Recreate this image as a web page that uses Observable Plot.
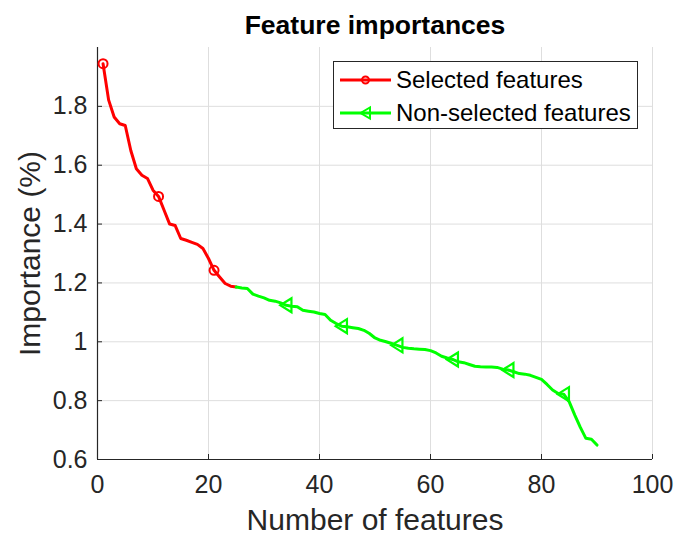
<!DOCTYPE html>
<html><head><meta charset="utf-8">
<script src="https://cdn.jsdelivr.net/npm/d3@7"></script>
<script src="https://cdn.jsdelivr.net/npm/@observablehq/plot@0.6"></script>
<style>
html,body{margin:0;padding:0;background:#fff;}
#chart{position:relative;width:675px;height:537px;font-family:"Liberation Sans",Arial,Helvetica,sans-serif;overflow:hidden;}
#legend{position:absolute;left:333px;top:61px;width:305px;height:68px;border:1px solid #262626;background:#fff;box-sizing:border-box;}
#legend .row{position:absolute;left:0;height:30px;display:flex;align-items:center;}
#legend svg{display:block;}
#legend span{font-size:24px;color:#000;margin-left:5px;white-space:nowrap;}
</style></head><body>
<div id="chart"></div>
<script>
// ---- data ----
const selectedStart = 1;
const selectedImportance = [1.945, 1.822, 1.764, 1.741, 1.735, 1.650, 1.588, 1.566, 1.555, 1.515,
  1.494, 1.447, 1.400, 1.395, 1.351, 1.345, 1.338, 1.331, 1.317, 1.283,
  1.243, 1.220, 1.198, 1.189, 1.186];
const nonSelectedStart = 25;
const nonSelectedImportance = [1.186, 1.183, 1.181, 1.162, 1.155, 1.149, 1.141, 1.138, 1.132, 1.124,
  1.121, 1.119, 1.107, 1.104, 1.101, 1.096, 1.093, 1.073, 1.062, 1.053,
  1.051, 1.048, 1.045, 1.039, 1.028, 1.013, 1.005, 1.000, 0.994, 0.988,
  0.981, 0.978, 0.976, 0.975, 0.974, 0.970, 0.962, 0.951, 0.945, 0.940,
  0.932, 0.929, 0.923, 0.917, 0.915, 0.914, 0.914, 0.913, 0.907, 0.904,
  0.898, 0.892, 0.890, 0.886, 0.879, 0.872, 0.855, 0.836, 0.824, 0.822,
  0.796, 0.751, 0.709, 0.672, 0.669, 0.649];
const selectedMarkers = [1, 11, 21];
const nonSelectedMarkers = [34, 44, 54, 64, 74, 84];
const xTicks = [0, 20, 40, 60, 80, 100];
const yTicks = [0.6, 0.8, 1.0, 1.2, 1.4, 1.6, 1.8];
const yTickLabels = ["0.6", "0.8", "1", "1.2", "1.4", "1.6", "1.8"];
const seriesNames = ["Selected features", "Non-selected features"];
const seriesColors = ["#ff0000", "#00ff00"];

// ---- build ----
const sel = selectedImportance.map((v, i) => ({x: selectedStart + i, y: v}));
const non = nonSelectedImportance.map((v, i) => ({x: nonSelectedStart + i, y: v}));

const W = 675, H = 537, mL = 97, mR = 23, mT = 47, mB = 78;
const innerH = H - mT - mB, innerW = W - mL - mR;

const triLeft = {
  draw(context, size) {
    const s = Math.sqrt(size / Math.PI);
    context.moveTo(-s * 0.85, 0);
    context.lineTo(s * 0.75, -s);
    context.lineTo(s * 0.75, s);
    context.closePath();
  }
};

const fmtY = d => yTickLabels[yTicks.findIndex(t => Math.abs(t - d) < 1e-9)];

const plot = Plot.plot({
  width: W, height: H,
  marginLeft: mL, marginRight: mR, marginTop: mT, marginBottom: mB,
  style: {background: "#fff", fontFamily: "'Liberation Sans', Arial, Helvetica, sans-serif", color: "#262626", overflow: "visible"},
  x: {domain: [0, 100]},
  y: {domain: [0.6, 2.0]},
  marks: [
    Plot.gridX(xTicks, {stroke: "#dedede", strokeOpacity: 1}),
    Plot.gridY(yTicks, {stroke: "#dedede", strokeOpacity: 1}),
    Plot.ruleX([0], {stroke: "#262626", strokeWidth: 1.2}),
    Plot.ruleY([0.6], {stroke: "#262626", strokeWidth: 1.2}),
    Plot.tickX(xTicks, {x: d => d, insetTop: innerH - 5, stroke: "#262626"}),
    Plot.tickY(yTicks, {y: d => d, insetRight: innerW - 5, stroke: "#262626"}),
    Plot.axisX({ticks: xTicks, tickSize: 0, tickPadding: 16, fontSize: 25, label: null, fill: "#262626"}),
    Plot.axisY({ticks: yTicks, tickSize: 0, tickPadding: 10, fontSize: 25, label: null, tickFormat: fmtY, fill: "#262626"}),
    Plot.line(sel, {x: "x", y: "y", stroke: seriesColors[0], strokeWidth: 3, strokeLinejoin: "round"}),
    Plot.line(non, {x: "x", y: "y", stroke: seriesColors[1], strokeWidth: 3, strokeLinejoin: "round"}),
    Plot.dot(sel.filter(d => selectedMarkers.includes(d.x)), {x: "x", y: "y", r: 4.5, stroke: seriesColors[0], strokeWidth: 2, fill: "none"}),
    Plot.dot(non.filter(d => nonSelectedMarkers.includes(d.x)), {x: "x", y: "y", r: 7, symbol: triLeft, stroke: seriesColors[1], strokeWidth: 2.2, fill: "none"}),
    Plot.text(["Feature importances"], {frameAnchor: "top", textAnchor: "middle", lineAnchor: "middle", dy: -22, fontSize: 26.5, fontWeight: "bold", fill: "#000"}),
    Plot.text(["Number of features"], {frameAnchor: "bottom", textAnchor: "middle", lineAnchor: "middle", dy: 61, fontSize: 30, fill: "#262626"}),
    Plot.text(["Importance (%)"], {frameAnchor: "left", textAnchor: "middle", lineAnchor: "middle", dx: -67, rotate: -90, fontSize: 30, fill: "#262626"})
  ]
});

const chart = document.getElementById("chart");
chart.appendChild(plot);

// legend
const legend = document.createElement("div");
legend.id = "legend";
const rowTops = [3, 36];
seriesNames.forEach((name, i) => {
  const row = document.createElement("div");
  row.className = "row";
  row.style.top = rowTops[i] + "px";
  const ns = "http://www.w3.org/2000/svg";
  const svg = document.createElementNS(ns, "svg");
  svg.setAttribute("width", "57");
  svg.setAttribute("height", "30");
  const line = document.createElementNS(ns, "line");
  line.setAttribute("x1", "6"); line.setAttribute("x2", "57");
  line.setAttribute("y1", "15"); line.setAttribute("y2", "15");
  line.setAttribute("stroke", seriesColors[i]); line.setAttribute("stroke-width", "3");
  svg.appendChild(line);
  if (i === 0) {
    const c = document.createElementNS(ns, "circle");
    c.setAttribute("cx", "31.5"); c.setAttribute("cy", "15"); c.setAttribute("r", "3.5");
    c.setAttribute("fill", "none"); c.setAttribute("stroke", seriesColors[i]); c.setAttribute("stroke-width", "2");
    svg.appendChild(c);
  } else {
    const p = document.createElementNS(ns, "path");
    p.setAttribute("d", "M26.5,15 L36,9.5 L36,20.5 Z");
    p.setAttribute("fill", "none"); p.setAttribute("stroke", seriesColors[i]); p.setAttribute("stroke-width", "2");
    svg.appendChild(p);
  }
  row.appendChild(svg);
  const span = document.createElement("span");
  span.textContent = name;
  row.appendChild(span);
  legend.appendChild(row);
});
chart.appendChild(legend);
</script>
</body></html>
